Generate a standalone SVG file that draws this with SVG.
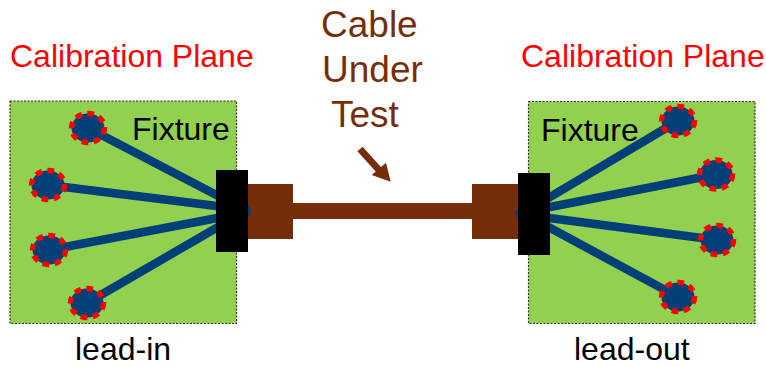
<svg xmlns="http://www.w3.org/2000/svg" width="766" height="367" viewBox="0 0 766 367">
<style>
text{font-family:"Liberation Sans",Arial,sans-serif;font-size:32px}
.board{fill:#92d050;stroke:#333;stroke-width:1.2;stroke-dasharray:2 1.5}
.pad{fill:#003f78;stroke:#ff0000;stroke-width:5.5;stroke-dasharray:6.5 5.5}
.wire{stroke:#003f78;stroke-width:8.5;fill:none}
.brown{fill:#762e0a}
.red{fill:#ff0000}
.blk{fill:#000}
.bt{fill:#762e0a;font-size:37px}
</style>
<rect width="766" height="367" fill="#fff"/>
<g id="fixture-left"><rect class="board" x="10" y="101" width="226.5" height="222.5"/><text class="blk" x="132" y="140">Fixture</text></g>
<g id="fixture-right"><rect class="board" x="528.5" y="101.5" width="226.5" height="222"/><text class="blk" x="541" y="141">Fixture</text></g>
<g id="cable"><rect class="brown" x="293" y="203" width="179" height="16"/><rect class="brown" x="248" y="184" width="45" height="55"/><rect class="brown" x="472" y="184" width="46" height="55"/></g>
<g id="connectors">
<path class="wire" d="M88 128L249 212M48 185L249 210M49 250L249 212M87 303L249 209"/>
<path class="wire" d="M678 121L517 216.600M716 174.500L517 213.500M717 240L517 213.700M678 297L517 210"/>
<path d="M360 149L379 170" stroke="#762e0a" stroke-width="7" fill="none"/>
<path class="brown" d="M386 162.700L390.700 181.700L371.700 175Z"/>
</g>
<g id="connector-left"><rect class="blk" x="216" y="170" width="32" height="82"/></g>
<g id="connector-right"><rect class="blk" x="518" y="173" width="32" height="82"/></g>
<g id="pads-left"><ellipse class="pad" cx="88" cy="128" rx="16.500" ry="14.500"/><ellipse class="pad" cx="48" cy="185" rx="16.500" ry="14.500"/><ellipse class="pad" cx="49" cy="250" rx="16.500" ry="14.500"/><ellipse class="pad" cx="87" cy="303" rx="16.500" ry="14.500"/></g>
<g id="pads-right"><ellipse class="pad" cx="678" cy="121" rx="16.500" ry="14.500"/><ellipse class="pad" cx="716" cy="174.500" rx="16.500" ry="14.500"/><ellipse class="pad" cx="717" cy="240" rx="16.500" ry="14.500"/><ellipse class="pad" cx="678" cy="297" rx="16.500" ry="14.500"/></g>
<g id="labels">
<text class="red" x="10" y="67">Calibration Plane</text>
<text class="red" x="521" y="67">Calibration Plane</text>
<text class="blk" x="75" y="360">lead-in</text>
<text class="blk" x="574" y="360">lead-out</text>
<text class="bt" x="321" y="37">Cable</text>
<text class="bt" x="322" y="82">Under</text>
<text class="bt" x="331" y="127">Test</text>
</g>
</svg>
